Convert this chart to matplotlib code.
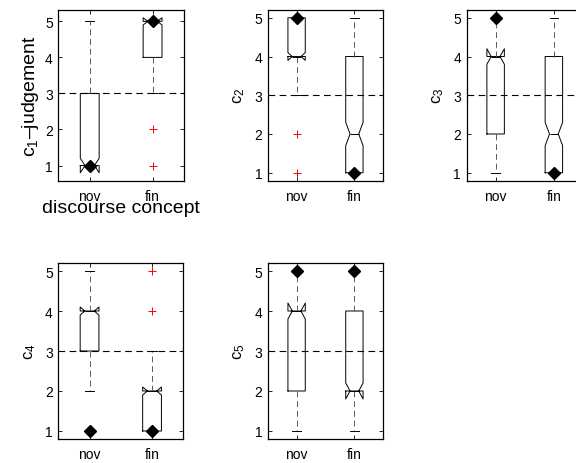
import matplotlib
matplotlib.use('Agg')
import matplotlib.pyplot as plt

plt.rcParams['font.family'] = ['Liberation Sans', 'DejaVu Sans']
plt.rcParams['mathtext.fontset'] = 'custom'
plt.rcParams['mathtext.rm'] = 'Liberation Sans'
plt.rcParams['mathtext.it'] = 'Liberation Sans:italic'

# ---- data ----
groups = ['nov', 'fin']
panel_labels = [r'$\mathregular{c_1}$–judgement', r'$\mathregular{c_2}$',
                r'$\mathregular{c_3}$', r'$\mathregular{c_4}$', r'$\mathregular{c_5}$']
q1 = [[1, 4], [4, 1], [2, 1], [3, 1], [2, 2]]
med = [[1, 5], [4, 2], [4, 2], [4, 2], [4, 2]]
q3 = [[3, 5], [5, 4], [4, 4], [4, 2], [4, 4]]
whislo = [[1, 3], [3, 1], [1, 1], [2, 1], [1, 1]]
whishi = [[5, 5], [5, 5], [5, 5], [5, 3], [5, 5]]
notch_half = [[0.2, 0.1], [0.1, 0.3], [0.2, 0.3], [0.1, 0.1], [0.2, 0.2]]
fliers = [[[], [2, 1]], [[2, 1], []], [[], []], [[], [4, 5]], [[], []]]
diamonds = [[1, 5], [5, 1], [5, 1], [1, 1], [5, 5]]
ylims = [(0.585, 5.315), (0.8, 5.2), (0.8, 5.2), (0.8, 5.2), (0.8, 5.2)]
yticks = [1, 2, 3, 4, 5]
ref_level = 3

W, H = 576, 464
fig = plt.figure(figsize=(W / 100, H / 100), dpi=100)

# axes rectangles in pixels: left, top, width, height
rects_px = [(58.3, 11, 125.7, 170.5), (267.7, 11, 115.6, 170.5), (466.5, 11, 116.5, 170.5),
            (58.3, 264, 125.0, 176), (267.7, 264, 115.6, 176)]

for i, (l, t, w, h) in enumerate(rects_px):
    ax = fig.add_axes([l / W, 1 - (t + h) / H, w / W, h / H])
    stats = []
    for j in range(2):
        stats.append(dict(med=med[i][j], q1=q1[i][j], q3=q3[i][j],
                          whislo=whislo[i][j], whishi=whishi[i][j],
                          cilo=med[i][j] - notch_half[i][j],
                          cihi=med[i][j] + notch_half[i][j],
                          fliers=fliers[i][j]))
    ax.axhline(ref_level, color='k', lw=0.8, ls=(0, (6, 4)), zorder=1)
    ax.bxp(stats, positions=[1, 2], widths=0.3, shownotches=True, showfliers=True,
           boxprops=dict(color='k', lw=0.7),
           whiskerprops=dict(color='0.35', lw=0.7, ls=(0, (6, 4))),
           capprops=dict(color='k', lw=0.7),
           medianprops=dict(color='k', lw=0.7),
           flierprops=dict(marker='+', markeredgecolor='red', markersize=6,
                           markeredgewidth=0.7, linestyle='none'))
    ax.plot([1, 2], diamonds[i], 'D', color='k', markersize=6, zorder=5, clip_on=False)
    ax.set_xlim(0.5, 2.5)
    ax.set_ylim(*ylims[i])
    ax.set_xticks([1, 2])
    ax.set_xticklabels(groups)
    ax.set_yticks(yticks)
    ax.tick_params(direction='in', top=True, right=True, length=3, width=0.6,
                   labelsize=10)
    ax.tick_params(axis='x', pad=6)
    ax.tick_params(axis='y', pad=4)
    for s in ax.spines.values():
        s.set_linewidth(0.9)
    if i == 0:
        ax.set_ylabel(panel_labels[i], fontsize=14, labelpad=3)
        ax.set_xlabel('discourse concept', fontsize=14, labelpad=-3)
    else:
        ax.set_ylabel(panel_labels[i], fontsize=12, labelpad=5)

fig.savefig('out.png', dpi=100)
